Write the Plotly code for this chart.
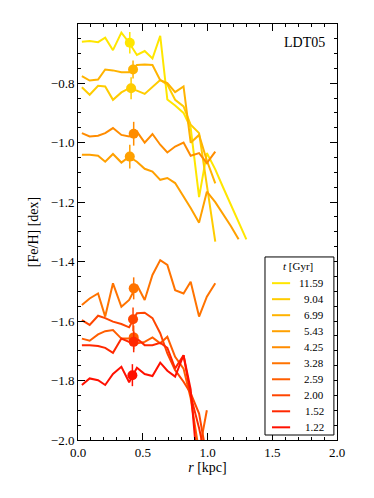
import plotly.graph_objects as go

# radial bins (kpc)
r_bins = [0.03, 0.09, 0.155, 0.21, 0.27, 0.335, 0.395, 0.455, 0.515, 0.575, 0.635,
          0.69, 0.75, 0.815, 0.87, 0.935, 0.995, 1.06, 1.12, 1.18, 1.24, 1.30]

ages = ['11.59', '9.04', '6.99', '5.43', '4.25', '3.28', '2.59', '2.00', '1.52', '1.22']
colors = ['#FFE600', '#FFCC00', '#FFB300', '#FFA000', '#FF8C00',
          '#FF7300', '#FF5E00', '#FF4500', '#FF2800', '#FF1000']

fe_1159 = [-0.661, -0.658, -0.662, -0.647, -0.689, -0.630, -0.664, -0.705, -0.692, -0.717, -0.641,
           -0.855, -0.875, -0.90, -0.95, -1.183, -1.035, -1.09, -1.15, -1.21, -1.27, -1.325]
fe_904 = [-0.814, -0.839, -0.809, -0.811, -0.856, -0.831, -0.817, -0.825, -0.836, -0.811, -0.789,
          -0.805, -0.856, -0.878, -0.94, -0.968, -1.15, -1.333]
fe_699 = [-0.776, -0.791, -0.788, -0.754, -0.757, -0.763, -0.763, -0.739, -0.737, -0.739, -0.79,
          -0.80, -0.83, -0.811, -1.0, -0.974, -1.06, -1.137]
fe_543 = [-1.041, -1.041, -1.044, -1.064, -1.038, -1.067, -1.047, -1.064, -1.088, -1.097, -1.125,
          -1.119, -1.136, -1.181, -1.22, -1.269, -1.165, -1.20, -1.24, -1.28, -1.325]
fe_425 = [-0.968, -0.979, -0.977, -0.968, -0.951, -0.974, -0.979, -0.963, -1.0, -0.971, -1.007,
          -1.033, -1.013, -1.0, -1.044, -1.035, -1.069, -1.03]
fe_328 = [-1.546, -1.524, -1.507, -1.585, -1.473, -1.552, -1.529, -1.479, -1.529, -1.445, -1.395,
          -1.411, -1.496, -1.507, -1.468, -1.585, -1.518, -1.473]
fe_259 = [-1.659, -1.666, -1.645, -1.634, -1.63, -1.659, -1.659, -1.675, -1.67, -1.655, -1.675,
          -1.653, -1.72, -1.76, -1.86, -2.04, -1.90]
fe_200 = [-1.597, -1.613, -1.582, -1.59, -1.602, -1.61, -1.621, -1.574, -1.572, -1.59, -1.641,
          -1.709, -1.765, -1.804, -1.843, -1.911, -2.06]
fe_152 = [-1.681, -1.681, -1.684, -1.69, -1.707, -1.659, -1.67, -1.659, -1.681, -1.681, -1.673,
          -1.69, -1.759, -1.715, -1.85, -1.96, -2.08]
fe_122 = [-1.815, -1.793, -1.799, -1.815, -1.778, -1.754, -1.806, -1.757, -1.778, -1.785, -1.74,
          -1.767, -1.787, -1.715, -1.83, -2.15]

profiles = [fe_1159, fe_904, fe_699, fe_543, fe_425, fe_328, fe_259, fe_200, fe_152, fe_122]

# mean [Fe/H] at the half-light radius, with error
mark_r = [0.40, 0.41, 0.425, 0.40, 0.43, 0.43, 0.43, 0.425, 0.43, 0.42]
mark_fe = [-0.664, -0.817, -0.754, -1.047, -0.97, -1.49, -1.655, -1.594, -1.67, -1.782]
mark_err = [0.036, 0.037, 0.03, 0.04, 0.04, 0.037, 0.04, 0.04, 0.035, 0.037]

FONT = 'Liberation Serif'

fig = go.Figure()
for age, col, fe in zip(ages, colors, profiles):
    fig.add_trace(go.Scatter(
        x=r_bins[:len(fe)], y=fe, mode='lines', name=age, showlegend=False,
        line=dict(color=col, width=2)))

for col, x, y, e in zip(colors, mark_r, mark_fe, mark_err):
    fig.add_trace(go.Scatter(
        x=[x], y=[y], mode='markers', showlegend=False,
        marker=dict(color=col, size=10),
        error_y=dict(type='data', array=[e], color=col, thickness=1.5, width=0)))

fig.add_annotation(x=0.96, y=0.955, xref='paper', yref='paper', text='LDT05',
                   showarrow=False, xanchor='right', yanchor='middle',
                   font=dict(family=FONT, size=14, color='black'))

# compact legend box (plotly's own legend rows are too tall), in paper coords
LEG_X0, LEG_X1, LEG_Y0, LEG_Y1 = 0.722, 0.988, 0.012, 0.44
ROW0, ROW_STEP = 0.377, 0.0385
fig.add_shape(type='rect', xref='paper', yref='paper', x0=LEG_X0, x1=LEG_X1, y0=LEG_Y0, y1=LEG_Y1,
              line=dict(color='black', width=1), fillcolor='white', layer='above')
fig.add_annotation(x=0.85, y=0.418, xref='paper', yref='paper', text='<i>t</i> [Gyr]',
                   showarrow=False, xanchor='center', yanchor='middle',
                   font=dict(family=FONT, size=11, color='black'))
for i, (age, col) in enumerate(zip(ages, colors)):
    yy = ROW0 - i * ROW_STEP
    fig.add_shape(type='line', xref='paper', yref='paper', x0=0.749, x1=0.819, y0=yy, y1=yy,
                  line=dict(color=col, width=2), layer='above')
    fig.add_annotation(x=0.958, y=yy, xref='paper', yref='paper', text=age,
                       showarrow=False, xanchor='right', yanchor='middle',
                       font=dict(family=FONT, size=11, color='black'))

axis_common = dict(showline=True, linecolor='black', linewidth=1, mirror='allticks',
                   ticks='inside', ticklen=7, tickcolor='black', showgrid=False,
                   zeroline=False, tickfont=dict(family=FONT, size=13, color='black'))

fig.update_xaxes(range=[0, 2.0], dtick=0.5, tickformat='.1f',
                 minor=dict(dtick=0.1, ticks='inside', ticklen=3, tickcolor='black'),
                 title=dict(text='<i>r</i> [kpc]', font=dict(family=FONT, size=14, color='black'),
                            standoff=2),
                 **axis_common)
fig.update_yaxes(range=[-2.0, -0.601], dtick=0.2, tickformat='.1f',
                 minor=dict(dtick=0.05, ticks='inside', ticklen=3, tickcolor='black'),
                 title=dict(text='[Fe/H] [dex]', font=dict(family=FONT, size=14, color='black'),
                            standoff=8),
                 **axis_common)

# page body has an 8px margin, so the figure is a bit smaller than the window
fig.update_layout(
    width=366, height=490,
    margin=dict(l=70, r=37, t=16, b=58),
    plot_bgcolor='white', paper_bgcolor='white',
    font=dict(family=FONT, color='black'),
    showlegend=False,
)

fig.write_html("out.html")
